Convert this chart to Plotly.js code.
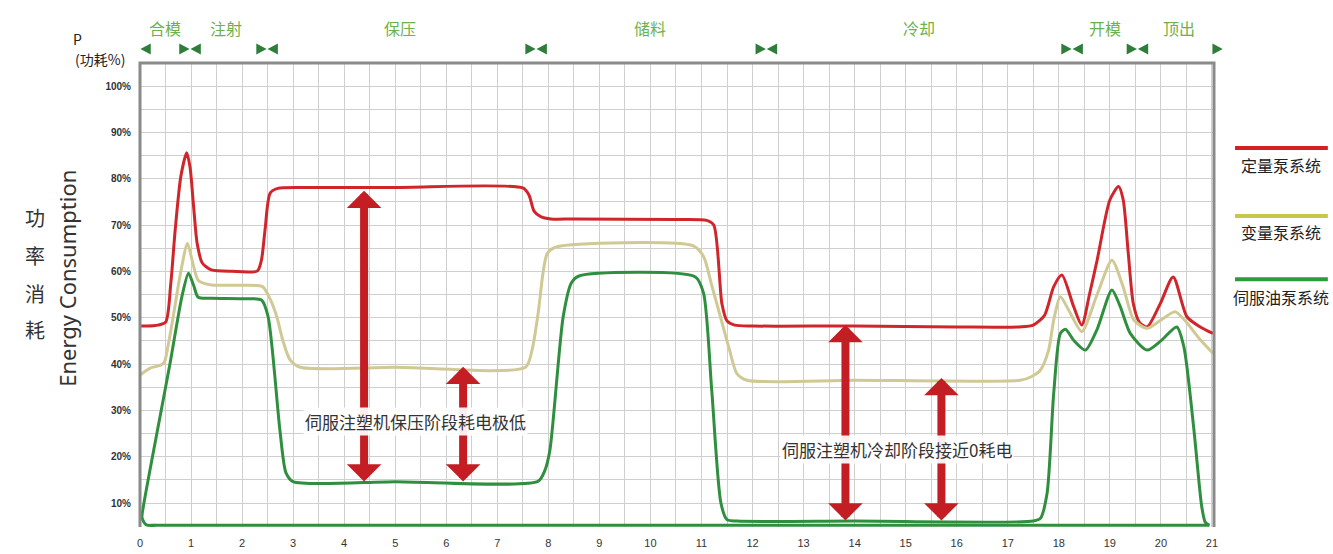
<!DOCTYPE html>
<html>
<head>
<meta charset="utf-8">
<script src="https://cdn.plot.ly/plotly-3.0.1.min.js"></script>
<style>html,body{margin:0;padding:0;background:#fff;}#chart{width:1333px;height:554px;}</style>
</head>
<body>
<div id="chart"></div>
<script>
// ---- data (time in s, power in %) ----
var seriesNames = ['定量泵系统', '变量泵系统', '伺服油泵系统'];

var fixedX = [0, 0.3, 0.5, 0.6, 0.69, 0.8, 0.915, 0.98, 1.05, 1.12, 1.22, 1.4, 1.8, 2.3, 2.38, 2.45, 2.55, 2.7, 3.2, 5, 7.5, 7.62, 7.72, 7.85, 8.05, 8.5, 10.5, 11.1, 11.24, 11.4, 11.5, 11.65, 12, 14, 16, 17.24, 17.5, 17.72, 17.9, 18.06, 18.29, 18.45, 18.6, 18.75, 19.0, 19.17, 19.26, 19.36, 19.46, 19.58, 19.73, 19.99, 20.24, 20.51, 20.77, 21.02];
var fixedY = [48.2, 48.3, 49.0, 57.0, 69.0, 80.5, 85.6, 82.5, 74.0, 66.0, 61.8, 60.3, 60.0, 60.1, 62.5, 69.0, 76.9, 77.9, 78.1, 78.1, 78.0, 76.5, 73.0, 71.8, 71.3, 71.3, 71.2, 71.0, 70.0, 53.0, 49.3, 48.4, 48.2, 48.2, 48.0, 48.0, 48.4, 50.5, 56.7, 59.2, 52.4, 48.4, 55.0, 62.4, 75.4, 78.3, 75.5, 64.0, 53.0, 49.0, 48.0, 53.1, 58.8, 50.2, 48.0, 46.6];

var varX = [0, 0.2, 0.46, 0.55, 0.65, 0.8, 0.93, 1.03, 1.14, 1.37, 2.0, 2.4, 2.55, 2.68, 2.8, 2.94, 3.14, 5, 7.55, 7.68, 7.8, 7.9, 7.98, 8.17, 10.84, 11.04, 11.2, 11.37, 11.55, 11.69, 11.89, 14, 17.24, 17.45, 17.64, 17.8, 17.9, 18.03, 18.2, 18.45, 18.75, 19.04, 19.25, 19.47, 19.73, 20.0, 20.28, 20.5, 20.75, 21.02];
var varY = [37.6, 39.1, 40.1, 44.0, 50.2, 60.0, 66.0, 62.0, 58.1, 57.1, 57.0, 56.7, 54.0, 50.2, 45.0, 40.9, 39.3, 39.3, 39.3, 43.0, 51.0, 60.0, 63.9, 65.3, 65.5, 63.2, 57.0, 50.2, 43.0, 38.0, 36.5, 36.5, 36.5, 37.2, 38.7, 43.0, 49.5, 54.5, 51.5, 47.0, 55.0, 62.4, 57.0, 49.5, 47.7, 49.5, 51.3, 49.0, 45.5, 42.3];

var servoX = [0.3, 0.12, 0.04, 0.07, 0.33, 0.59, 0.82, 0.95, 1.05, 1.14, 1.4, 2.0, 2.38, 2.51, 2.74, 2.86, 3.0, 5, 7.8, 7.93, 8.03, 8.29, 8.45, 8.6, 10.88, 11.04, 11.2, 11.38, 11.5, 11.7, 14, 17.5, 17.64, 17.77, 17.9, 18.03, 18.13, 18.3, 18.52, 18.75, 19.04, 19.2, 19.4, 19.73, 20.0, 20.31, 20.45, 20.64, 20.8, 20.87, 20.95];
var servoY = [5.2, 5.3, 6.8, 9.5, 25.0, 40.2, 54.5, 59.6, 57.0, 54.4, 54.2, 54.1, 53.8, 50.2, 25.8, 16.5, 14.6, 14.6, 14.7, 17.0, 21.4, 50.2, 57.5, 59.0, 58.8, 55.3, 34.4, 10.0, 6.4, 6.1, 6.1, 6.1, 6.7, 12.1, 33.7, 46.6, 47.5, 45.0, 43.0, 47.5, 56.0, 52.5, 46.6, 43.0, 45.0, 48.0, 43.7, 26.5, 9.2, 5.8, 5.2];
var servoBaseX = [0.2, 20.95];
var servoBaseY = [5.2, 5.2];

var phaseNames = ['合模', '注射', '保压', '储料', '冷却', '开模', '顶出'];
var phaseLabelX = [0.49, 1.68, 5.09, 9.99, 15.27, 18.91, 20.36];
var phaseBounds = [0, 0.98, 2.49, 7.76, 12.27, 18.26, 19.54, 21.22];

var xTicks = [0,1,2,3,4,5,6,7,8,9,10,11,12,13,14,15,16,17,18,19,20,21];
var yTicks = [10,20,30,40,50,60,70,80,90,100];
var yTickText = ['10%','20%','30%','40%','50%','60%','70%','80%','90%','100%'];

var note1 = '伺服注塑机保压阶段耗电极低';
var note2 = '伺服注塑机冷却阶段接近0耗电';
var noteX = [5.39, 14.83];
var noteY = [27.5, 21.6];
// double arrows: x, top, bottom
var arrowX = [4.39, 6.33, 13.82, 15.70];
var arrowTop = [77.4, 39.4, 48.4, 37.0];
var arrowBottom = [14.3, 14.3, 5.9, 5.9];

// ---- styles ----
var RED = '#d0262b', KHAKI = '#d0c994', GREEN = '#2f8f3f';
var CJK = '"Noto Sans CJK SC", "Noto Sans", sans-serif';
var X_RANGE = [0, 21.04];

var traces = [
  {x: fixedX, y: fixedY, name: seriesNames[0], mode: 'lines', line: {color: RED, width: 3, shape: 'spline', smoothing: 0.7}},
  {x: varX, y: varY, name: seriesNames[1], mode: 'lines', line: {color: KHAKI, width: 3, shape: 'spline', smoothing: 0.7}},
  {x: servoBaseX, y: servoBaseY, name: seriesNames[2], mode: 'lines', line: {color: GREEN, width: 3}},
  {x: servoX, y: servoY, name: seriesNames[2], mode: 'lines', line: {color: GREEN, width: 3, shape: 'spline', smoothing: 0.7}}
];

var annotations = [];
function ann(o) { o.xanchor = o.xanchor || 'center'; o.yanchor = o.yanchor || 'middle'; o.showarrow = false; annotations.push(o); }

phaseNames.forEach(function (n, i) {
  ann({x: phaseLabelX[i], xref: 'x', y: 1.075, yref: 'paper', text: n, font: {family: CJK, size: 16, color: '#6cb24a'}});
});
arrowX.forEach(function (ax, i) {
  annotations.push({x: ax, y: arrowTop[i], ax: ax, ay: arrowBottom[i], xref: 'x', yref: 'y', axref: 'x', ayref: 'y',
    text: '', showarrow: true, arrowside: 'end+start', arrowhead: 1, startarrowhead: 1,
    arrowsize: 0.72, startarrowsize: 0.72, arrowwidth: 8, arrowcolor: '#c41e24'});
});
ann({x: noteX[0], y: noteY[0], xref: 'x', yref: 'y', text: note1, bgcolor: 'rgba(255,255,255,0.92)',
  font: {family: CJK, size: 17, color: '#333'}});
ann({x: noteX[1], y: noteY[1], xref: 'x', yref: 'y', text: note2, bgcolor: 'rgba(255,255,255,0.92)',
  font: {family: CJK, size: 17, color: '#333'}});
// axis captions
ann({x: -0.068, y: 0.537, xref: 'paper', yref: 'paper', text: 'Energy Consumption', textangle: -90,
  font: {family: '"Noto Sans", sans-serif', size: 22, color: '#333'}});
['功', '率', '消', '耗'].forEach(function (c, i) {
  ann({x: -0.098, y: [0.666, 0.586, 0.504, 0.425][i], xref: 'paper', yref: 'paper', text: c,
    font: {family: CJK, size: 20, color: '#333'}});
});
ann({x: -0.058, y: 1.052, xref: 'paper', yref: 'paper', text: 'P', font: {family: CJK, size: 14, color: '#222'}});
ann({x: -0.037, y: 1.008, xref: 'paper', yref: 'paper', text: '(功耗%)', font: {family: CJK, size: 14, color: '#222'}});
// legend texts
var legY = [0.780, 0.636, 0.496];
seriesNames.forEach(function (n, i) {
  ann({x: 1.0625, y: legY[i], xref: 'paper', yref: 'paper', text: n, font: {family: CJK, size: 16, color: '#222'}});
});

var legLineY = [0.817, 0.670, 0.534];
var legColors = ['#d42020', '#c9c64e', '#2e9a3e'];
var shapes = [
  {type: 'path', xref: 'paper', yref: 'paper', path: 'M0,0 L0,1 L1,1 L1,0', line: {color: '#8a8a8a', width: 3}, layer: 'above'}
];
legLineY.forEach(function (y, i) {
  shapes.push({type: 'line', xref: 'paper', yref: 'paper', x0: 1.0196, x1: 1.106, y0: y, y1: y, line: {color: legColors[i], width: 4}});
});
// phase boundary triangles above the plot (paper coords derived from the x axis range)
var triY = 1.030, triH = 0.0118, triW = 0.0048;
function toPaper(x) { return (x - X_RANGE[0]) / (X_RANGE[1] - X_RANGE[0]); }
function tri(cx, dir) {
  var c = toPaper(cx), tip = c + dir * triW, base = c - dir * triW;
  return 'M' + base + ',' + (triY - triH) + ' L' + tip + ',' + triY + ' L' + base + ',' + (triY + triH) + ' Z';
}
phaseBounds.forEach(function (b, i) {
  if (i > 0) shapes.push({type: 'path', xref: 'paper', yref: 'paper', path: tri(b - 0.11, 1), fillcolor: '#2e7d3a', line: {width: 0}});
  if (i < phaseBounds.length - 1) shapes.push({type: 'path', xref: 'paper', yref: 'paper', path: tri(b + 0.11, -1), fillcolor: '#2e7d3a', line: {width: 0}});
});

var layout = {
  width: 1333, height: 554,
  margin: {l: 140, r: 119, t: 63, b: 27},
  paper_bgcolor: '#fff', plot_bgcolor: '#fff',
  showlegend: false,
  xaxis: {range: X_RANGE, tickvals: xTicks, showgrid: true, gridcolor: '#cfcfcf', gridwidth: 1,
    minor: {dtick: 0.5, tick0: 0, showgrid: true, gridcolor: '#cfcfcf', gridwidth: 1},
    zeroline: false, showline: false, ticks: '', ticklabelstandoff: 8,
    tickfont: {family: '"Liberation Sans", Arial, sans-serif', size: 11, color: '#333'}},
  yaxis: {range: [4.82, 104.97], tickvals: yTicks, ticktext: yTickText, showgrid: true, gridcolor: '#cfcfcf', gridwidth: 1,
    minor: {dtick: 5, tick0: 0, showgrid: true, gridcolor: '#cfcfcf', gridwidth: 1},
    zeroline: false, showline: false, ticks: '', ticklabelstandoff: 8,
    tickfont: {family: '"Liberation Sans", Arial, sans-serif', size: 10, color: '#333', weight: 700}},
  annotations: annotations,
  shapes: shapes
};

Plotly.newPlot('chart', traces, layout, {displayModeBar: false, staticPlot: true});
</script>
</body>
</html>
